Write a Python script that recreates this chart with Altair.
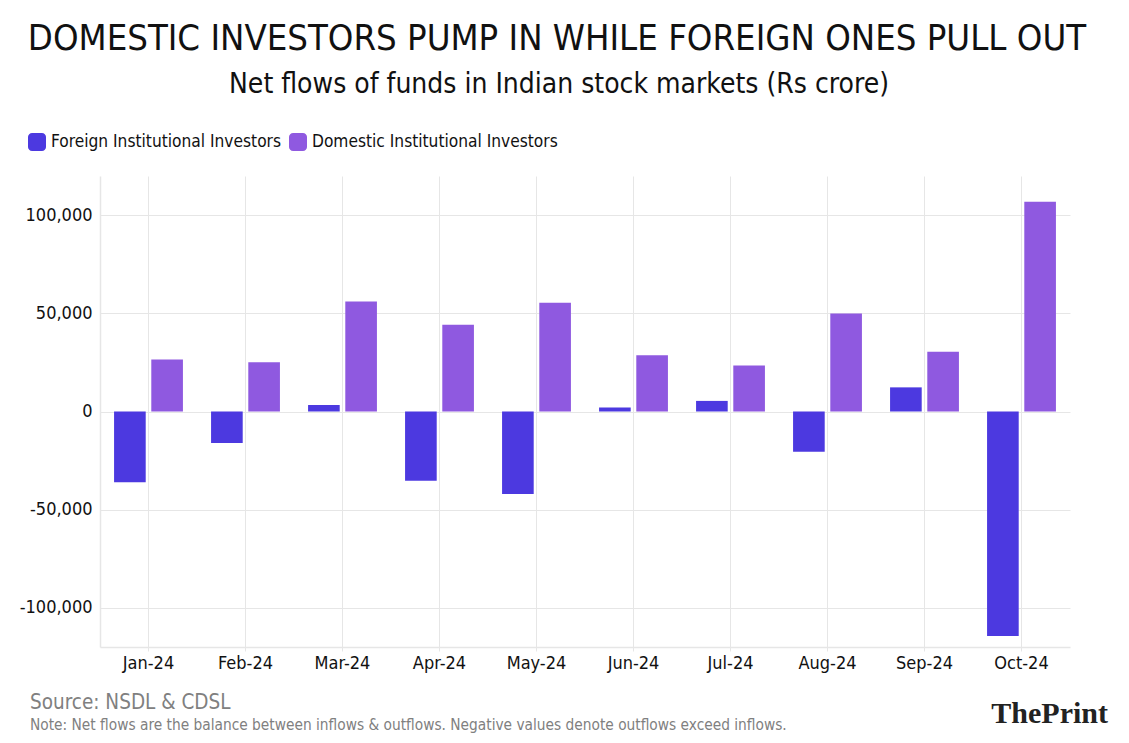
import altair as alt
import pandas as pd

months = ["Jan-24", "Feb-24", "Mar-24", "Apr-24", "May-24", "Jun-24", "Jul-24", "Aug-24", "Sep-24", "Oct-24"]
series_names = ["Foreign Institutional Investors", "Domestic Institutional Investors"]
fii = [-36000, -16100, 3300, -35300, -42000, 2100, 5400, -20500, 12300, -114400]
dii = [26500, 25100, 56100, 44200, 55400, 28700, 23400, 49900, 30500, 106900]
colors = ["#4c39e0", "#8f59e0"]
y_ticks = [-100000, -50000, 0, 50000, 100000]

title_text = "DOMESTIC INVESTORS PUMP IN WHILE FOREIGN ONES PULL OUT"
subtitle_text = "Net flows of funds in Indian stock markets (Rs crore)"
source_text = "Source: NSDL & CDSL"
note_text = "Note: Net flows are the balance between inflows & outflows. Negative values denote outflows exceed inflows."
logo_text = "ThePrint"

FONT = "DejaVu Sans Condensed, sans-serif"
PILL = ("M-0.55,-1 L0.55,-1 A0.45,0.45 0 0 1 1,-0.55 L1,0.55 A0.45,0.45 0 0 1 0.55,1 "
        "L-0.55,1 A0.45,0.45 0 0 1 -1,0.55 L-1,-0.55 A0.45,0.45 0 0 1 -0.55,-1 Z")

rows = []
for m, a, b in zip(months, fii, dii):
    rows.append({"month": m, "series": series_names[0], "value": a})
    rows.append({"month": m, "series": series_names[1], "value": b})
df = pd.DataFrame(rows)

base = alt.Chart(df)

bars = base.mark_bar().encode(
    x=alt.X("month:N", sort=months,
            scale=alt.Scale(paddingInner=0.29, paddingOuter=0.145),
            axis=alt.Axis(title=None, labelAngle=0, labelFont=FONT, labelFontSize=18,
                          labelColor="#111", labelPadding=3, grid=True, bandPosition=0.5,
                          gridColor="#e6e6e6", domainColor="#e6e6e6", tickColor="#e6e6e6",
                          tickSize=4, domainWidth=1.5)),
    xOffset=alt.XOffset("series:N", sort=series_names,
                        scale=alt.Scale(paddingInner=0.15, paddingOuter=0)),
    y=alt.Y("value:Q", scale=alt.Scale(domain=[-120000, 120000], nice=False),
            axis=alt.Axis(title=None, values=y_ticks, labelFont=FONT, labelFontSize=18,
                          labelColor="#111", labelPadding=8, ticks=False,
                          gridColor="#e6e6e6", domainColor="#e6e6e6", domainWidth=1.5,
                          labelExpr="datum.value < 0 ? '-' + format(-datum.value, ',') : format(datum.value, ',')")),
    color=alt.Color("series:N", sort=series_names,
                    scale=alt.Scale(domain=series_names, range=colors),
                    legend=alt.Legend(title=None, orient="none", direction="horizontal",
                                      legendX=-72, legendY=-43, labelFont=FONT, labelFontSize=17.2,
                                      labelColor="#111", symbolSize=324, symbolType=PILL,
                                      symbolOpacity=1, symbolStrokeWidth=0, columnPadding=8,
                                      labelOffset=5, labelLimit=0)),
)

def txt(text, x, y, size, color="#111", align="center", font=FONT, weight="normal"):
    return alt.Chart(pd.DataFrame({"t": [text]})).mark_text(
        font=font, fontSize=size, color=color, align=align, baseline="middle", fontWeight=weight
    ).encode(text="t:N", x=alt.value(x), y=alt.value(y))

title = txt(title_text, 457, -137, 36.2)
subtitle = txt(subtitle_text, 459, -91, 28)
source = txt(source_text, -70, 527, 20.5, color="#808080", align="left")
note = txt(note_text, -70, 549, 15.3, color="#808080", align="left")
logo = txt(logo_text, 1008, 538, 30, color="#222", align="right",
           font="Liberation Serif, DejaVu Serif, serif", weight="bold")

chart = alt.layer(bars, title, subtitle, source, note, logo).properties(
    width=970, height=471,
    autosize=alt.AutoSizeParams(type="none"),
    padding={"left": 92, "top": 168, "right": 51, "bottom": 88},
).configure(background="white").configure_view(strokeWidth=0)

chart.save("out.html", embed_options={"renderer": "svg", "actions": False})
